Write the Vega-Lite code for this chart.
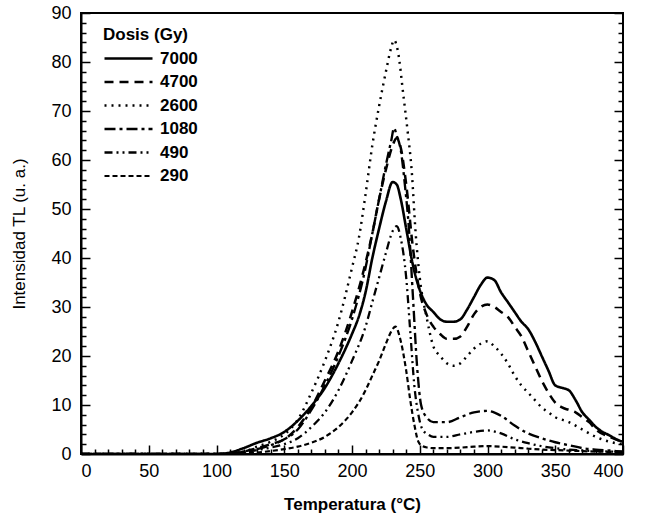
{
  "$schema": "https://vega.github.io/schema/vega-lite/v6.json",
  "width": 542,
  "height": 441,
  "autosize": "none",
  "padding": {"left": 81, "top": 13, "right": 24, "bottom": 65},
  "background": "white",
  "config": {
    "font": "Liberation Sans",
    "view": {"stroke": "black", "strokeWidth": 2},
    "axis": {"grid": false, "domainColor": "black", "domainWidth": 2, "tickColor": "black", "tickWidth": 1.5, "labelColor": "black", "titleColor": "black", "labelFont": "Liberation Sans", "titleFont": "Liberation Sans"}
  },
  "datasets": {
    "tl": [
      {"T":0,"I":0,"d":"7000"},{"T":100,"I":0,"d":"7000"},{"T":110,"I":0.3,"d":"7000"},{"T":120,"I":1.2,"d":"7000"},{"T":130,"I":2.3,"d":"7000"},{"T":140,"I":3.2,"d":"7000"},{"T":150,"I":4.5,"d":"7000"},{"T":160,"I":6.8,"d":"7000"},{"T":170,"I":9.8,"d":"7000"},{"T":180,"I":13.5,"d":"7000"},{"T":190,"I":18.5,"d":"7000"},{"T":200,"I":24.5,"d":"7000"},{"T":205,"I":28,"d":"7000"},{"T":210,"I":33,"d":"7000"},{"T":215,"I":40,"d":"7000"},{"T":220,"I":46,"d":"7000"},{"T":225,"I":51.5,"d":"7000"},{"T":230,"I":55.5,"d":"7000"},{"T":233,"I":55,"d":"7000"},{"T":236,"I":52,"d":"7000"},{"T":240,"I":46,"d":"7000"},{"T":245,"I":38.5,"d":"7000"},{"T":250,"I":33.5,"d":"7000"},{"T":255,"I":30.5,"d":"7000"},{"T":260,"I":29,"d":"7000"},{"T":265,"I":27.5,"d":"7000"},{"T":270,"I":27,"d":"7000"},{"T":275,"I":27,"d":"7000"},{"T":280,"I":27.5,"d":"7000"},{"T":285,"I":29.5,"d":"7000"},{"T":290,"I":32,"d":"7000"},{"T":295,"I":34.5,"d":"7000"},{"T":300,"I":36,"d":"7000"},{"T":305,"I":35.5,"d":"7000"},{"T":310,"I":33,"d":"7000"},{"T":315,"I":31,"d":"7000"},{"T":320,"I":29,"d":"7000"},{"T":325,"I":27,"d":"7000"},{"T":330,"I":25.5,"d":"7000"},{"T":335,"I":23,"d":"7000"},{"T":340,"I":20,"d":"7000"},{"T":345,"I":17,"d":"7000"},{"T":350,"I":14,"d":"7000"},{"T":355,"I":13.5,"d":"7000"},{"T":360,"I":13,"d":"7000"},{"T":365,"I":11,"d":"7000"},{"T":370,"I":8.5,"d":"7000"},{"T":375,"I":7,"d":"7000"},{"T":380,"I":5.5,"d":"7000"},{"T":385,"I":4.5,"d":"7000"},{"T":390,"I":3.8,"d":"7000"},{"T":395,"I":3,"d":"7000"},{"T":400,"I":2.5,"d":"7000"},

      {"T":0,"I":0,"d":"4700"},{"T":100,"I":0,"d":"4700"},{"T":120,"I":0.5,"d":"4700"},{"T":130,"I":1.2,"d":"4700"},{"T":140,"I":2,"d":"4700"},{"T":150,"I":3,"d":"4700"},{"T":160,"I":5.5,"d":"4700"},{"T":170,"I":9.5,"d":"4700"},{"T":180,"I":15,"d":"4700"},{"T":190,"I":21,"d":"4700"},{"T":200,"I":29,"d":"4700"},{"T":210,"I":39,"d":"4700"},{"T":215,"I":45,"d":"4700"},{"T":220,"I":52,"d":"4700"},{"T":225,"I":58,"d":"4700"},{"T":230,"I":63,"d":"4700"},{"T":233,"I":64.5,"d":"4700"},{"T":236,"I":62.5,"d":"4700"},{"T":240,"I":55,"d":"4700"},{"T":245,"I":42,"d":"4700"},{"T":250,"I":33,"d":"4700"},{"T":255,"I":28.5,"d":"4700"},{"T":260,"I":26,"d":"4700"},{"T":265,"I":24.5,"d":"4700"},{"T":270,"I":23.5,"d":"4700"},{"T":275,"I":23.5,"d":"4700"},{"T":280,"I":24,"d":"4700"},{"T":285,"I":26,"d":"4700"},{"T":290,"I":28.5,"d":"4700"},{"T":295,"I":30,"d":"4700"},{"T":300,"I":30.5,"d":"4700"},{"T":305,"I":30,"d":"4700"},{"T":310,"I":29,"d":"4700"},{"T":315,"I":28,"d":"4700"},{"T":320,"I":26,"d":"4700"},{"T":325,"I":24,"d":"4700"},{"T":330,"I":21,"d":"4700"},{"T":335,"I":18,"d":"4700"},{"T":340,"I":15,"d":"4700"},{"T":345,"I":12.5,"d":"4700"},{"T":350,"I":10.5,"d":"4700"},{"T":355,"I":9.5,"d":"4700"},{"T":360,"I":9,"d":"4700"},{"T":365,"I":8.5,"d":"4700"},{"T":370,"I":7.5,"d":"4700"},{"T":375,"I":6.5,"d":"4700"},{"T":380,"I":5,"d":"4700"},{"T":390,"I":3.5,"d":"4700"},{"T":400,"I":2.5,"d":"4700"},

      {"T":0,"I":0,"d":"2600"},{"T":100,"I":0,"d":"2600"},{"T":120,"I":0.5,"d":"2600"},{"T":130,"I":1.5,"d":"2600"},{"T":140,"I":2.5,"d":"2600"},{"T":150,"I":4,"d":"2600"},{"T":160,"I":7,"d":"2600"},{"T":170,"I":12.5,"d":"2600"},{"T":180,"I":19,"d":"2600"},{"T":190,"I":27,"d":"2600"},{"T":200,"I":38,"d":"2600"},{"T":205,"I":44,"d":"2600"},{"T":210,"I":53,"d":"2600"},{"T":215,"I":63,"d":"2600"},{"T":220,"I":71,"d":"2600"},{"T":225,"I":78,"d":"2600"},{"T":229,"I":83,"d":"2600"},{"T":231,"I":84.5,"d":"2600"},{"T":234,"I":82,"d":"2600"},{"T":238,"I":73,"d":"2600"},{"T":241,"I":66,"d":"2600"},{"T":244,"I":58,"d":"2600"},{"T":247,"I":45,"d":"2600"},{"T":250,"I":36,"d":"2600"},{"T":255,"I":28,"d":"2600"},{"T":260,"I":22,"d":"2600"},{"T":265,"I":20,"d":"2600"},{"T":270,"I":18.5,"d":"2600"},{"T":275,"I":18,"d":"2600"},{"T":280,"I":18.5,"d":"2600"},{"T":285,"I":20,"d":"2600"},{"T":290,"I":21.5,"d":"2600"},{"T":295,"I":22.5,"d":"2600"},{"T":300,"I":23,"d":"2600"},{"T":305,"I":22,"d":"2600"},{"T":310,"I":20.5,"d":"2600"},{"T":315,"I":18.5,"d":"2600"},{"T":320,"I":16,"d":"2600"},{"T":325,"I":14,"d":"2600"},{"T":330,"I":12.5,"d":"2600"},{"T":335,"I":11,"d":"2600"},{"T":340,"I":9.5,"d":"2600"},{"T":345,"I":8.5,"d":"2600"},{"T":350,"I":7.5,"d":"2600"},{"T":355,"I":7,"d":"2600"},{"T":360,"I":6.5,"d":"2600"},{"T":370,"I":5,"d":"2600"},{"T":380,"I":3.5,"d":"2600"},{"T":390,"I":2.5,"d":"2600"},{"T":400,"I":2,"d":"2600"},

      {"T":0,"I":0,"d":"1080"},{"T":100,"I":0,"d":"1080"},{"T":120,"I":0.4,"d":"1080"},{"T":130,"I":1,"d":"1080"},{"T":140,"I":1.8,"d":"1080"},{"T":150,"I":3,"d":"1080"},{"T":160,"I":5,"d":"1080"},{"T":170,"I":9,"d":"1080"},{"T":180,"I":14,"d":"1080"},{"T":190,"I":20,"d":"1080"},{"T":200,"I":27.5,"d":"1080"},{"T":210,"I":38,"d":"1080"},{"T":215,"I":45,"d":"1080"},{"T":220,"I":52,"d":"1080"},{"T":225,"I":59,"d":"1080"},{"T":229,"I":64,"d":"1080"},{"T":231,"I":66.5,"d":"1080"},{"T":233,"I":65,"d":"1080"},{"T":236,"I":62,"d":"1080"},{"T":239,"I":55,"d":"1080"},{"T":242,"I":46,"d":"1080"},{"T":245,"I":32,"d":"1080"},{"T":248,"I":18,"d":"1080"},{"T":251,"I":10,"d":"1080"},{"T":255,"I":7.5,"d":"1080"},{"T":260,"I":6.5,"d":"1080"},{"T":270,"I":6.5,"d":"1080"},{"T":280,"I":7.5,"d":"1080"},{"T":290,"I":8.5,"d":"1080"},{"T":300,"I":8.8,"d":"1080"},{"T":310,"I":7.8,"d":"1080"},{"T":320,"I":5.8,"d":"1080"},{"T":330,"I":4.2,"d":"1080"},{"T":340,"I":3.2,"d":"1080"},{"T":350,"I":2.4,"d":"1080"},{"T":360,"I":1.8,"d":"1080"},{"T":370,"I":1.2,"d":"1080"},{"T":380,"I":0.9,"d":"1080"},{"T":390,"I":0.7,"d":"1080"},{"T":400,"I":0.5,"d":"1080"},

      {"T":0,"I":0,"d":"490"},{"T":100,"I":0,"d":"490"},{"T":120,"I":0.3,"d":"490"},{"T":130,"I":0.8,"d":"490"},{"T":140,"I":1.3,"d":"490"},{"T":150,"I":2,"d":"490"},{"T":160,"I":3.2,"d":"490"},{"T":170,"I":5.5,"d":"490"},{"T":180,"I":8.5,"d":"490"},{"T":190,"I":13,"d":"490"},{"T":200,"I":19,"d":"490"},{"T":210,"I":26,"d":"490"},{"T":215,"I":31,"d":"490"},{"T":220,"I":36,"d":"490"},{"T":225,"I":41,"d":"490"},{"T":230,"I":45.5,"d":"490"},{"T":233,"I":46.5,"d":"490"},{"T":236,"I":44,"d":"490"},{"T":240,"I":36,"d":"490"},{"T":243,"I":25,"d":"490"},{"T":246,"I":14,"d":"490"},{"T":249,"I":8,"d":"490"},{"T":252,"I":5,"d":"490"},{"T":256,"I":4,"d":"490"},{"T":260,"I":3.5,"d":"490"},{"T":270,"I":3.5,"d":"490"},{"T":280,"I":4,"d":"490"},{"T":290,"I":4.5,"d":"490"},{"T":300,"I":4.8,"d":"490"},{"T":310,"I":4.2,"d":"490"},{"T":320,"I":3,"d":"490"},{"T":330,"I":2.2,"d":"490"},{"T":340,"I":1.6,"d":"490"},{"T":350,"I":1.2,"d":"490"},{"T":360,"I":0.9,"d":"490"},{"T":380,"I":0.6,"d":"490"},{"T":400,"I":0.4,"d":"490"},

      {"T":0,"I":0,"d":"290"},{"T":100,"I":0,"d":"290"},{"T":130,"I":0.3,"d":"290"},{"T":140,"I":0.6,"d":"290"},{"T":150,"I":1,"d":"290"},{"T":160,"I":1.5,"d":"290"},{"T":170,"I":2.3,"d":"290"},{"T":180,"I":3.5,"d":"290"},{"T":190,"I":5.5,"d":"290"},{"T":200,"I":8.5,"d":"290"},{"T":205,"I":10.5,"d":"290"},{"T":210,"I":13,"d":"290"},{"T":215,"I":16,"d":"290"},{"T":220,"I":19,"d":"290"},{"T":225,"I":22.5,"d":"290"},{"T":230,"I":25.5,"d":"290"},{"T":232,"I":26,"d":"290"},{"T":236,"I":23,"d":"290"},{"T":240,"I":17,"d":"290"},{"T":243,"I":11,"d":"290"},{"T":246,"I":6,"d":"290"},{"T":249,"I":2.5,"d":"290"},{"T":252,"I":1.6,"d":"290"},{"T":256,"I":1.3,"d":"290"},{"T":260,"I":1.2,"d":"290"},{"T":270,"I":1.2,"d":"290"},{"T":280,"I":1.3,"d":"290"},{"T":290,"I":1.5,"d":"290"},{"T":300,"I":1.6,"d":"290"},{"T":310,"I":1.5,"d":"290"},{"T":320,"I":1.3,"d":"290"},{"T":330,"I":1.1,"d":"290"},{"T":340,"I":0.9,"d":"290"},{"T":350,"I":0.8,"d":"290"},{"T":360,"I":0.7,"d":"290"},{"T":380,"I":0.5,"d":"290"},{"T":400,"I":0.4,"d":"290"}
    ]
  },
  "data": {"name": "tl"},
  "resolve": {"axis": {"x": "independent", "y": "independent"}},
  "layer": [
    {
      "mark": {"type": "line", "interpolate": "monotone", "stroke": "black", "clip": true},
      "encoding": {
        "x": {"field": "T", "type": "quantitative", "scale": {"domain": [0, 400], "nice": false},
          "axis": {"orient": "bottom", "values": [0,50,100,150,200,250,300,350,400], "tickSize": -9, "labelPadding": 17, "labelFontSize": 18, "title": "Temperatura (°C)", "titleFontSize": 17, "titleFontWeight": "bold", "titlePadding": 16}},
        "y": {"field": "I", "type": "quantitative", "scale": {"domain": [0, 90], "nice": false},
          "axis": {"orient": "left", "values": [0,10,20,30,40,50,60,70,80,90], "tickSize": -9, "labelPadding": 19, "labelFontSize": 18, "title": "Intensidad TL (u. a.)", "titleFontSize": 17, "titleFontWeight": "normal", "titlePadding": 22}},
        "strokeDash": {"field": "d", "type": "nominal",
          "scale": {"domain": ["7000","4700","2600","1080","490","290"], "range": [[1,0],[9,6],[2,5],[11,4,3,4],[8,4,2,4,2,4],[5,3]]},
          "legend": {"orient": "none", "legendX": 22, "legendY": 14, "title": "Dosis (Gy)", "titleFontSize": 17, "titleFontWeight": "bold", "titlePadding": 5, "labelFontSize": 17, "labelFontWeight": "bold", "labelColor": "black", "titleColor": "black", "symbolType": "M-1,0H5", "symbolSize": 256, "symbolStrokeColor": "black", "rowPadding": 5.5, "labelOffset": 38}},
        "strokeWidth": {"field": "d", "type": "nominal",
          "scale": {"domain": ["7000","4700","2600","1080","490","290"], "range": [2.6,2.2,1.8,2.6,1.6,2.2]},
          "legend": null}
      }
    },
    {
      "mark": {"type": "line", "opacity": 0},
      "encoding": {
        "x": {"field": "T", "type": "quantitative", "axis": {"orient": "bottom", "values": [10,20,30,40,60,70,80,90,110,120,130,140,160,170,180,190,210,220,230,240,260,270,280,290,310,320,330,340,360,370,380,390], "tickSize": -5, "labels": false, "domain": false, "title": null}},
        "y": {"field": "I", "type": "quantitative", "axis": {"orient": "left", "values": [2,4,6,8,12,14,16,18,22,24,26,28,32,34,36,38,42,44,46,48,52,54,56,58,62,64,66,68,72,74,76,78,82,84,86,88], "tickSize": -5, "labels": false, "domain": false, "title": null}},
        "detail": {"field": "d"}
      }
    },
    {
      "mark": {"type": "line", "opacity": 0},
      "encoding": {
        "x": {"field": "T", "type": "quantitative", "axis": null},
        "y": {"field": "I", "type": "quantitative", "axis": {"orient": "right", "values": [0,10,20,30,40,50,60,70,80,90], "tickSize": -9, "labels": false, "domain": false, "title": null}},
        "detail": {"field": "d"}
      }
    },
    {
      "mark": {"type": "line", "opacity": 0},
      "encoding": {
        "x": {"field": "T", "type": "quantitative", "axis": null},
        "y": {"field": "I", "type": "quantitative", "axis": {"orient": "right", "values": [2,4,6,8,12,14,16,18,22,24,26,28,32,34,36,38,42,44,46,48,52,54,56,58,62,64,66,68,72,74,76,78,82,84,86,88], "tickSize": -5, "labels": false, "domain": false, "title": null}},
        "detail": {"field": "d"}
      }
    }
  ]
}
